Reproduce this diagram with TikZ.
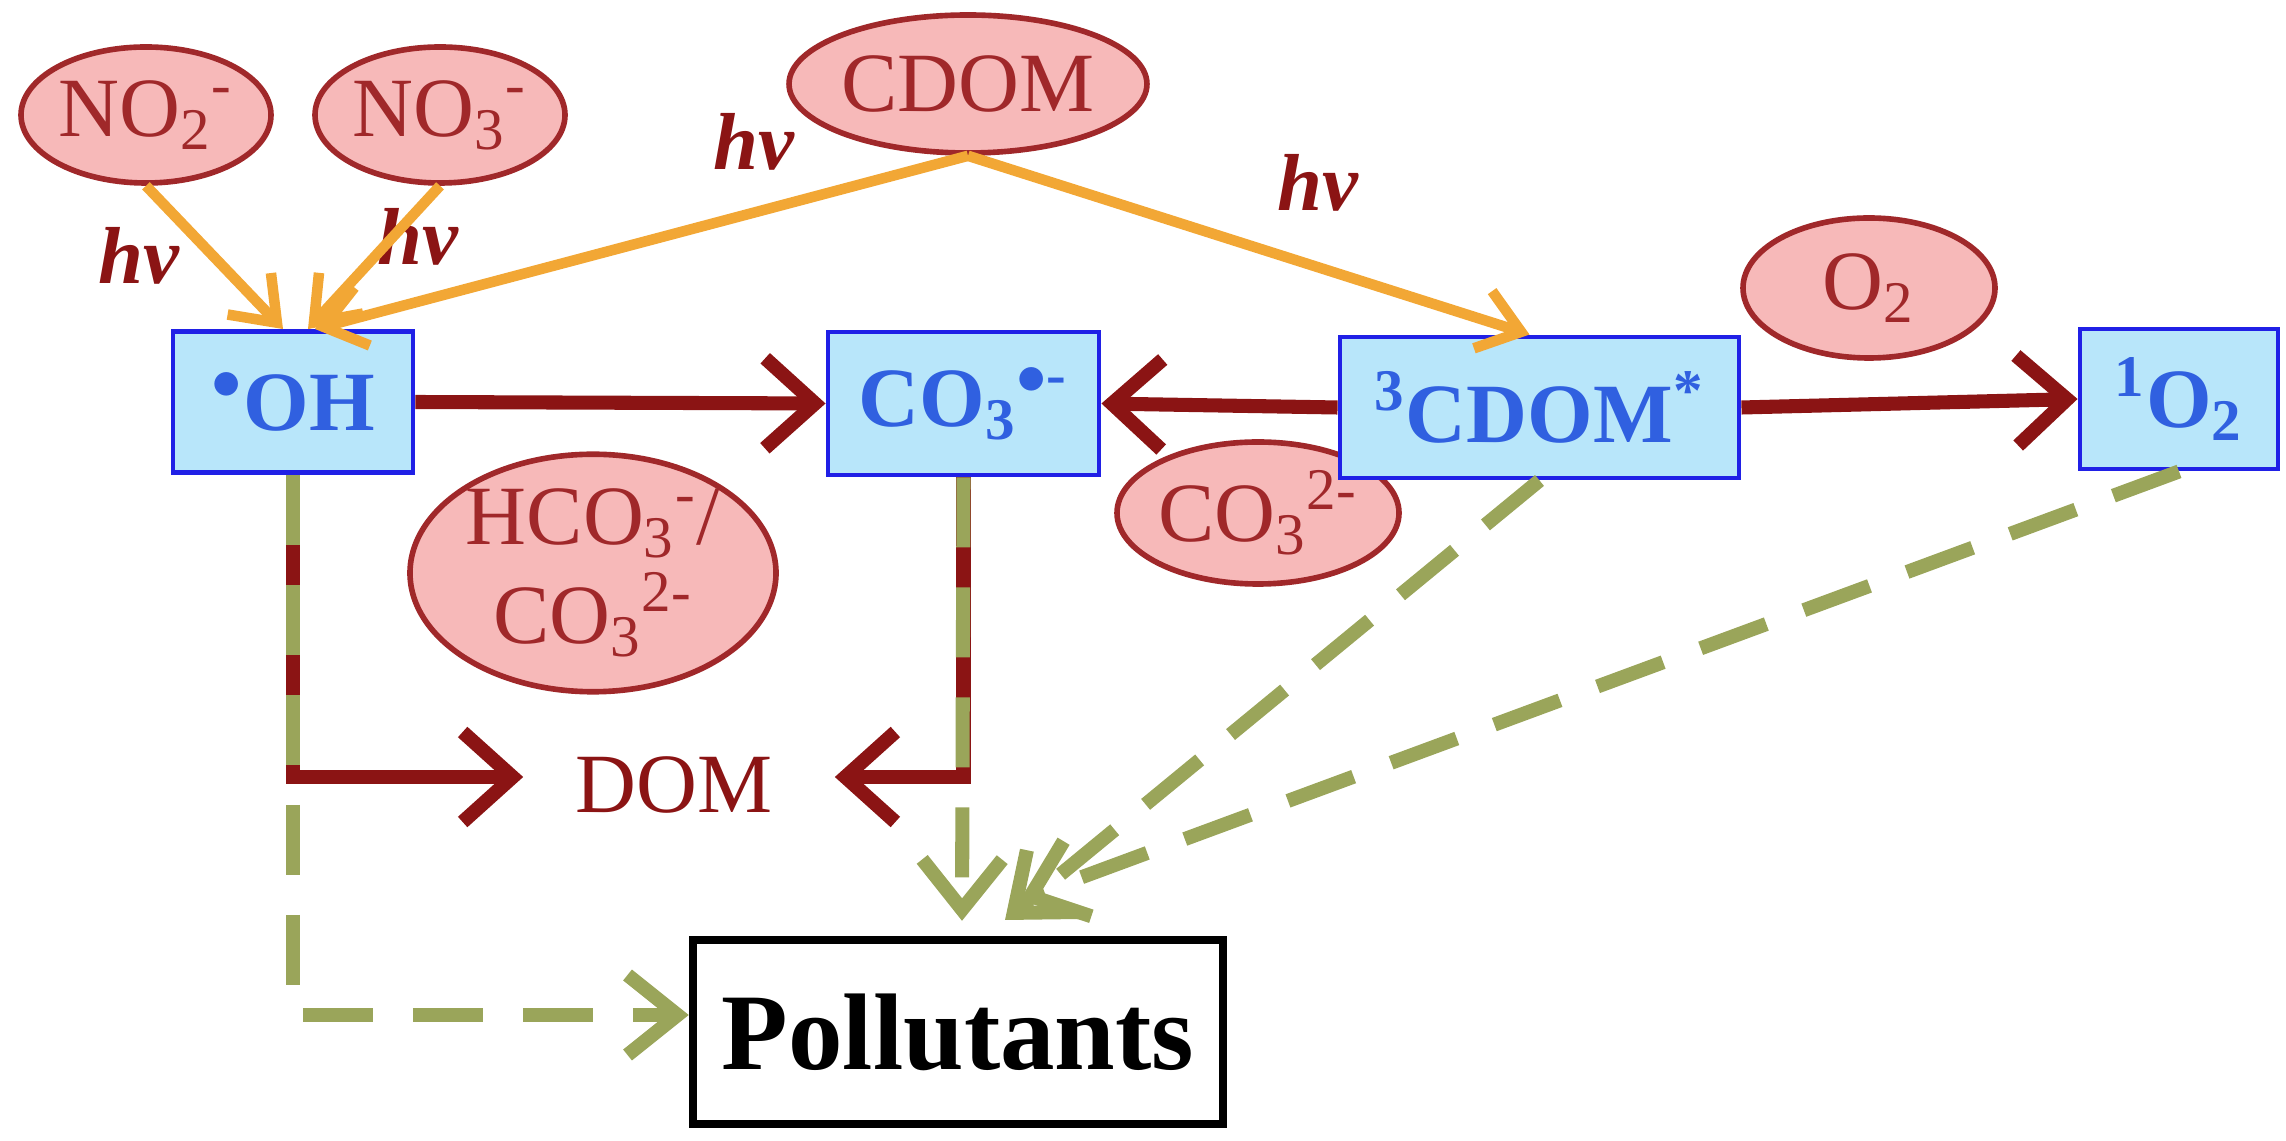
\documentclass[tikz,border=0pt]{standalone}
\usepackage{fontspec}
\setmainfont{Liberation Serif}
\usetikzlibrary{arrows.meta,positioning,calc,shapes.geometric}
\definecolor{pinkfill}{HTML}{F7B9B9}
\definecolor{pinkline}{HTML}{A0282A}
\definecolor{boxfill}{HTML}{B8E6FA}
\definecolor{boxline}{HTML}{2020E6}
\definecolor{boxtext}{HTML}{3060E0}
\definecolor{redarr}{HTML}{8B1414}
\definecolor{orangearr}{HTML}{F2A735}
\definecolor{greenarr}{HTML}{9AA55A}
\newcommand{\bigtext}{\fontsize{24}{28}\selectfont}
\newcommand{\sub}[1]{\textsubscript{#1}}
\newcommand{\sups}[1]{\textsuperscript{#1}}

\begin{document}
\begin{tikzpicture}[
  species/.style={ellipse, draw=pinkline, line width=1.6pt, fill=pinkfill, inner sep=0pt, text=pinkline, font=\bigtext, align=center},
  radical/.style={rectangle, draw=boxline, line width=1.4pt, fill=boxfill, inner sep=0pt, text=boxtext, font=\bigtext\bfseries},
  light/.style={text=redarr, font=\fontsize{23}{26}\selectfont\bfseries\itshape},
  photo/.style={-{Straight Barb[length=4mm,width=6mm]}, orangearr, line width=3pt},
  react/.style={-{Straight Barb[length=5mm,width=9mm]}, redarr, line width=4pt},
  attack/.style={-{Straight Barb[length=5mm,width=8mm]}, greenarr, line width=4pt, dash pattern=on 7mm off 4mm}
]
\useasboundingbox (0,0) rectangle (22.86,11.40);

% sources
\node[species, minimum width=2.5cm, minimum height=1.36cm] (no2) at (1.46,10.25) {NO\sub{2}\sups{-}};
\node[species, minimum width=2.5cm, minimum height=1.36cm] (no3) at (4.40,10.25) {NO\sub{3}\sups{-}};
\node[species, minimum width=3.2cm, minimum height=1.38cm] (cdom) at (9.68,10.56) {CDOM};
\node[species, minimum width=2.52cm, minimum height=1.4cm] (o2) at (18.69,8.52) {O\sub{2}};
\node[species, minimum width=2.52cm, minimum height=1.42cm] (carb) at (12.58,6.27) {CO\sub{3}\sups{2-}};
\node[species, minimum width=3.66cm, minimum height=2.04cm] (bicarb) at (5.93,5.67) {HCO\sub{3}\sups{-}/\\CO\sub{3}\sups{2-}};

% reactive species
\node[radical, minimum width=2.4cm, minimum height=1.41cm] (oh) at (2.93,7.38) {\sups{$\bullet$}OH};
\node[radical, minimum width=2.71cm, minimum height=1.43cm] (co3) at (9.635,7.365) {CO\sub{3}\sups{$\bullet$-}};
\node[radical, minimum width=3.99cm, minimum height=1.41cm] (tcdom) at (15.395,7.325) {\sups{3}CDOM\sups{*}};
\node[radical, minimum width=1.98cm, minimum height=1.40cm] (so) at (21.79,7.41) {\sups{1}O\sub{2}};

\node[text=redarr, font=\bigtext] (dom) at (6.74,3.55) {DOM};
\node[draw, line width=2.4pt, minimum width=5.3cm, minimum height=1.84cm, font=\fontsize{31}{34}\selectfont\bfseries] (poll) at (9.58,1.08) {Pollutants};
\coordinate (hit) at (10.05,2.2);

\node[light] at (1.39,8.84) {hv};
\node[light] at (4.18,9.03) {hv};
\node[light] at (7.54,9.98) {hv};
\node[light] at (13.18,9.57) {hv};

% photochemistry
\draw[photo] (no2.south) -- ([xshift=-1mm]oh.north);
\draw[photo] (no3.south) -- ([xshift=1.5mm]oh.north);
\draw[photo] (cdom.south) -- ([xshift=2.2mm]oh.north);
\draw[photo] (cdom.south) -- ([xshift=-1mm]tcdom.north);

% reactions
\draw[react] (oh.east) -- (co3.west);
\draw[react] (tcdom.west) -- (co3.east);
\draw[react] (tcdom.east) -- (so.west);
\draw[react] (oh.south) |- ([xshift=-4mm,yshift=0.8mm]dom.west);
\draw[react] (co3.south) |- ([xshift=5mm,yshift=0.8mm]dom.east);

% degradation
\draw[attack] (oh.south) |- ([yshift=1.7mm]poll.west);
\draw[attack] (co3.south) -- ([xshift=0.4mm,yshift=1.5mm]poll.north);
\draw[attack] (tcdom.south) -- (hit);
\draw[attack] (so.south) -- ([xshift=1.5mm,yshift=2mm]hit);
\end{tikzpicture}
\end{document}
